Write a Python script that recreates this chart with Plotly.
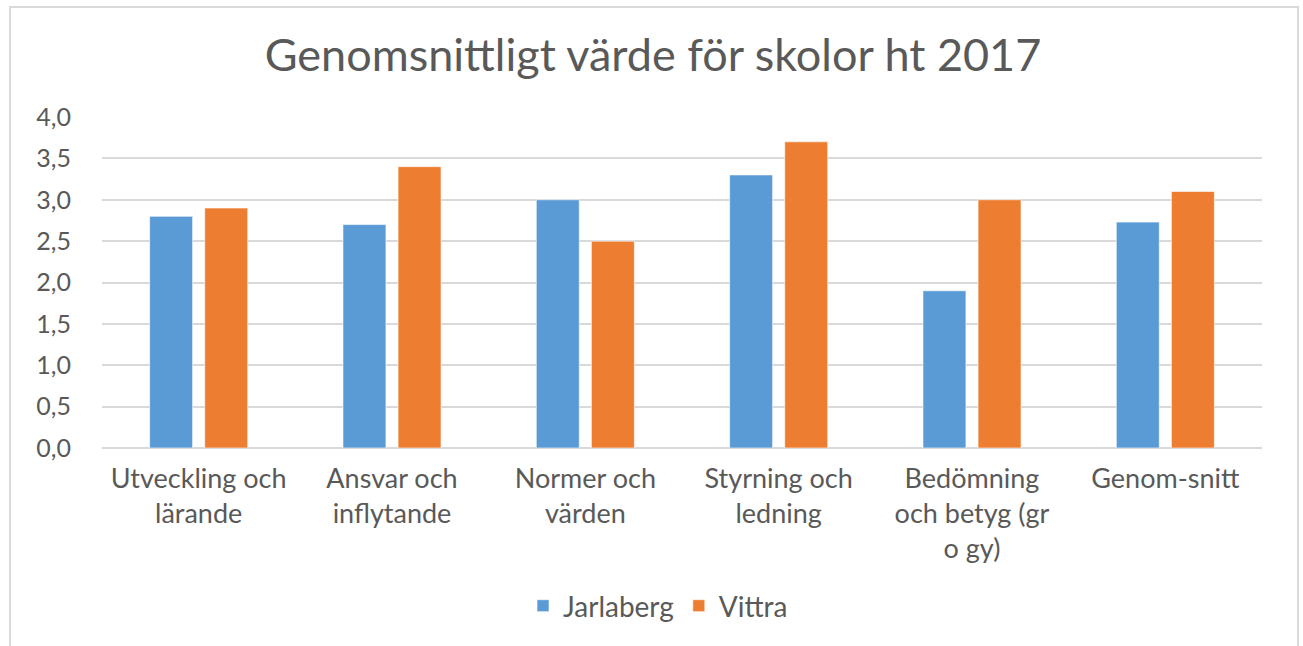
import plotly.graph_objects as go

categories = ["Utveckling och<br>lärande", "Ansvar och<br>inflytande", "Normer och<br>värden",
              "Styrning och<br>ledning", "Bedömning<br>och betyg (gr<br>o gy)", "Genom-snitt"]
jarlaberg = [2.8, 2.7, 3.0, 3.3, 1.9, 2.73]
vittra = [2.9, 3.4, 2.5, 3.7, 3.0, 3.1]
y_ticks = [0, 0.5, 1.0, 1.5, 2.0, 2.5, 3.0, 3.5, 4.0]

W, H = 1303, 646
L, T = 102, 117
R = W - 1262
B = H - 448
pw, ph = W - L - R, H - T - B

font = "Lato"
grey = "#595959"

fig = go.Figure()
fig.add_trace(go.Bar(name="Jarlaberg", x=categories, y=jarlaberg, marker_color="#5B9BD5",
                     marker_line=dict(color="rgba(255,255,255,0.6)", width=1)))
fig.add_trace(go.Bar(name="Vittra", x=categories, y=vittra, marker_color="#ED7D31",
                     marker_line=dict(color="rgba(255,255,255,0.6)", width=1)))

def px_x(x):
    return (x - L) / pw

def px_y(y):
    return (H - B - y) / ph

fig.update_layout(
    width=W, height=H,
    margin=dict(l=L, r=R, t=T, b=B),
    paper_bgcolor="white", plot_bgcolor="white",
    separators=", ",
    barmode="group", bargap=0.43, bargroupgap=0.22,
    title=dict(text="Genomsnittligt värde för skolor ht 2017", x=px_x(653), xanchor="center",
               xref="paper", y=1 - 55 / H, yanchor="middle",
               font=dict(family=font, size=45, color=grey)),
    font=dict(family=font, color=grey),
    xaxis=dict(showgrid=False, showline=False, ticks="", ticklabelstandoff=12,
               tickfont=dict(size=27, color=grey)),
    yaxis=dict(range=[0, 4.0], tickvals=y_ticks, tickformat=".1f", showgrid=True,
               gridcolor="#d9d9d9", gridwidth=2, zeroline=True, zerolinecolor="#d9d9d9",
               zerolinewidth=2, showline=False, ticks="", ticklabelstandoff=30,
               tickfont=dict(size=25, color=grey)),
    legend=dict(orientation="h", x=px_x(658), xanchor="center", y=px_y(606), yanchor="middle",
                font=dict(size=28, color=grey), traceorder="normal"),
    shapes=[dict(type="rect", xref="paper", yref="paper",
                 x0=px_x(10), x1=px_x(1298), y0=px_y(670), y1=px_y(7),
                 line=dict(color="#d9d9d9", width=2), fillcolor="rgba(0,0,0,0)", layer="below")],
)

fig.write_html("out.html", config={"displayModeBar": False},
               post_script="document.body.style.margin='0';document.body.style.overflow='hidden';")
